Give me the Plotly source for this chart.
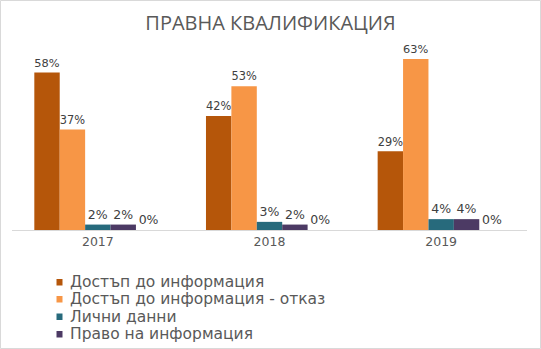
import plotly.graph_objects as go

# --- data -------------------------------------------------------------
years = ["2017", "2018", "2019"]
series_names = [
    "Достъп до информация",
    "Достъп до информация - отказ",
    "Лични данни",
    "Право на информация",
    "Други",
]
access_info = [58, 42, 29]
access_refused = [37, 53, 63]
personal_data = [2, 3, 4]
right_to_info = [2, 2, 4]
other = [0, 0, 0]
series_values = [access_info, access_refused, personal_data, right_to_info, other]
colors = ["#B5560A", "#F79646", "#276A7C", "#4C3A64", "#8C8C8C"]

# --- layout geometry (pixels) -------------------------------------------
W, H = 541, 349
ML, MR, MT, MB = 12, 14, 40, 119
PW, PH = W - ML - MR, H - MT - MB


def px_x(px):
    return (px - ML) / PW


def px_y(py):
    return (H - MB - py) / PH


fig = go.Figure()
for name, vals, col in zip(series_names, series_values, colors):
    fig.add_trace(go.Bar(
        x=years, y=vals, name=name,
        marker=dict(color=col, line=dict(width=0)),
        text=[f"{v}%" for v in vals],
        textposition="outside",
        textfont=dict(family="DejaVu Sans", size=12.5, color="#404040"),
        cliponaxis=False,
        showlegend=False,
    ))

shapes = [
    # outer chart border
    dict(type="rect", xref="paper", yref="paper",
         x0=px_x(0.5), x1=px_x(W - 0.5), y0=px_y(H - 0.5), y1=px_y(0.5),
         line=dict(color="#D9D9D9", width=1), fillcolor="rgba(0,0,0,0)"),
]
annotations = []

# legend rows (first four series)
row_y = [282, 299, 316.5, 334]
for name, col, ry in zip(series_names[:4], colors[:4], row_y):
    shapes.append(dict(type="rect", xref="paper", yref="paper",
                       x0=px_x(56.5), x1=px_x(62.5), y0=px_y(ry + 3.5), y1=px_y(ry - 3),
                       line=dict(width=0), fillcolor=col))
    annotations.append(dict(xref="paper", yref="paper", x=px_x(68), y=px_y(ry),
                            xanchor="left", yanchor="middle", showarrow=False,
                            text=name,
                            font=dict(family="DejaVu Sans", size=15.5, color="#595959")))

fig.update_layout(
    width=W, height=H,
    margin=dict(l=ML, r=MR, t=MT, b=MB),
    paper_bgcolor="white", plot_bgcolor="white",
    barmode="group", bargap=0.26, bargroupgap=0,
    title=dict(text="ПРАВНА КВАЛИФИКАЦИЯ", x=0.5, xanchor="center",
               y=1 - 23 / H, yanchor="middle", yref="container",
               font=dict(family="Open Sans", size=20, color="#595959")),
    xaxis=dict(showline=True, linecolor="#D9D9D9", linewidth=1,
               ticks="", showgrid=False,
               tickfont=dict(family="DejaVu Sans", size=12.5, color="#595959")),
    yaxis=dict(range=[0, 70], visible=False, showgrid=False, zeroline=False),
    shapes=shapes, annotations=annotations,
    showlegend=False,
)

fig.write_html("out.html")
